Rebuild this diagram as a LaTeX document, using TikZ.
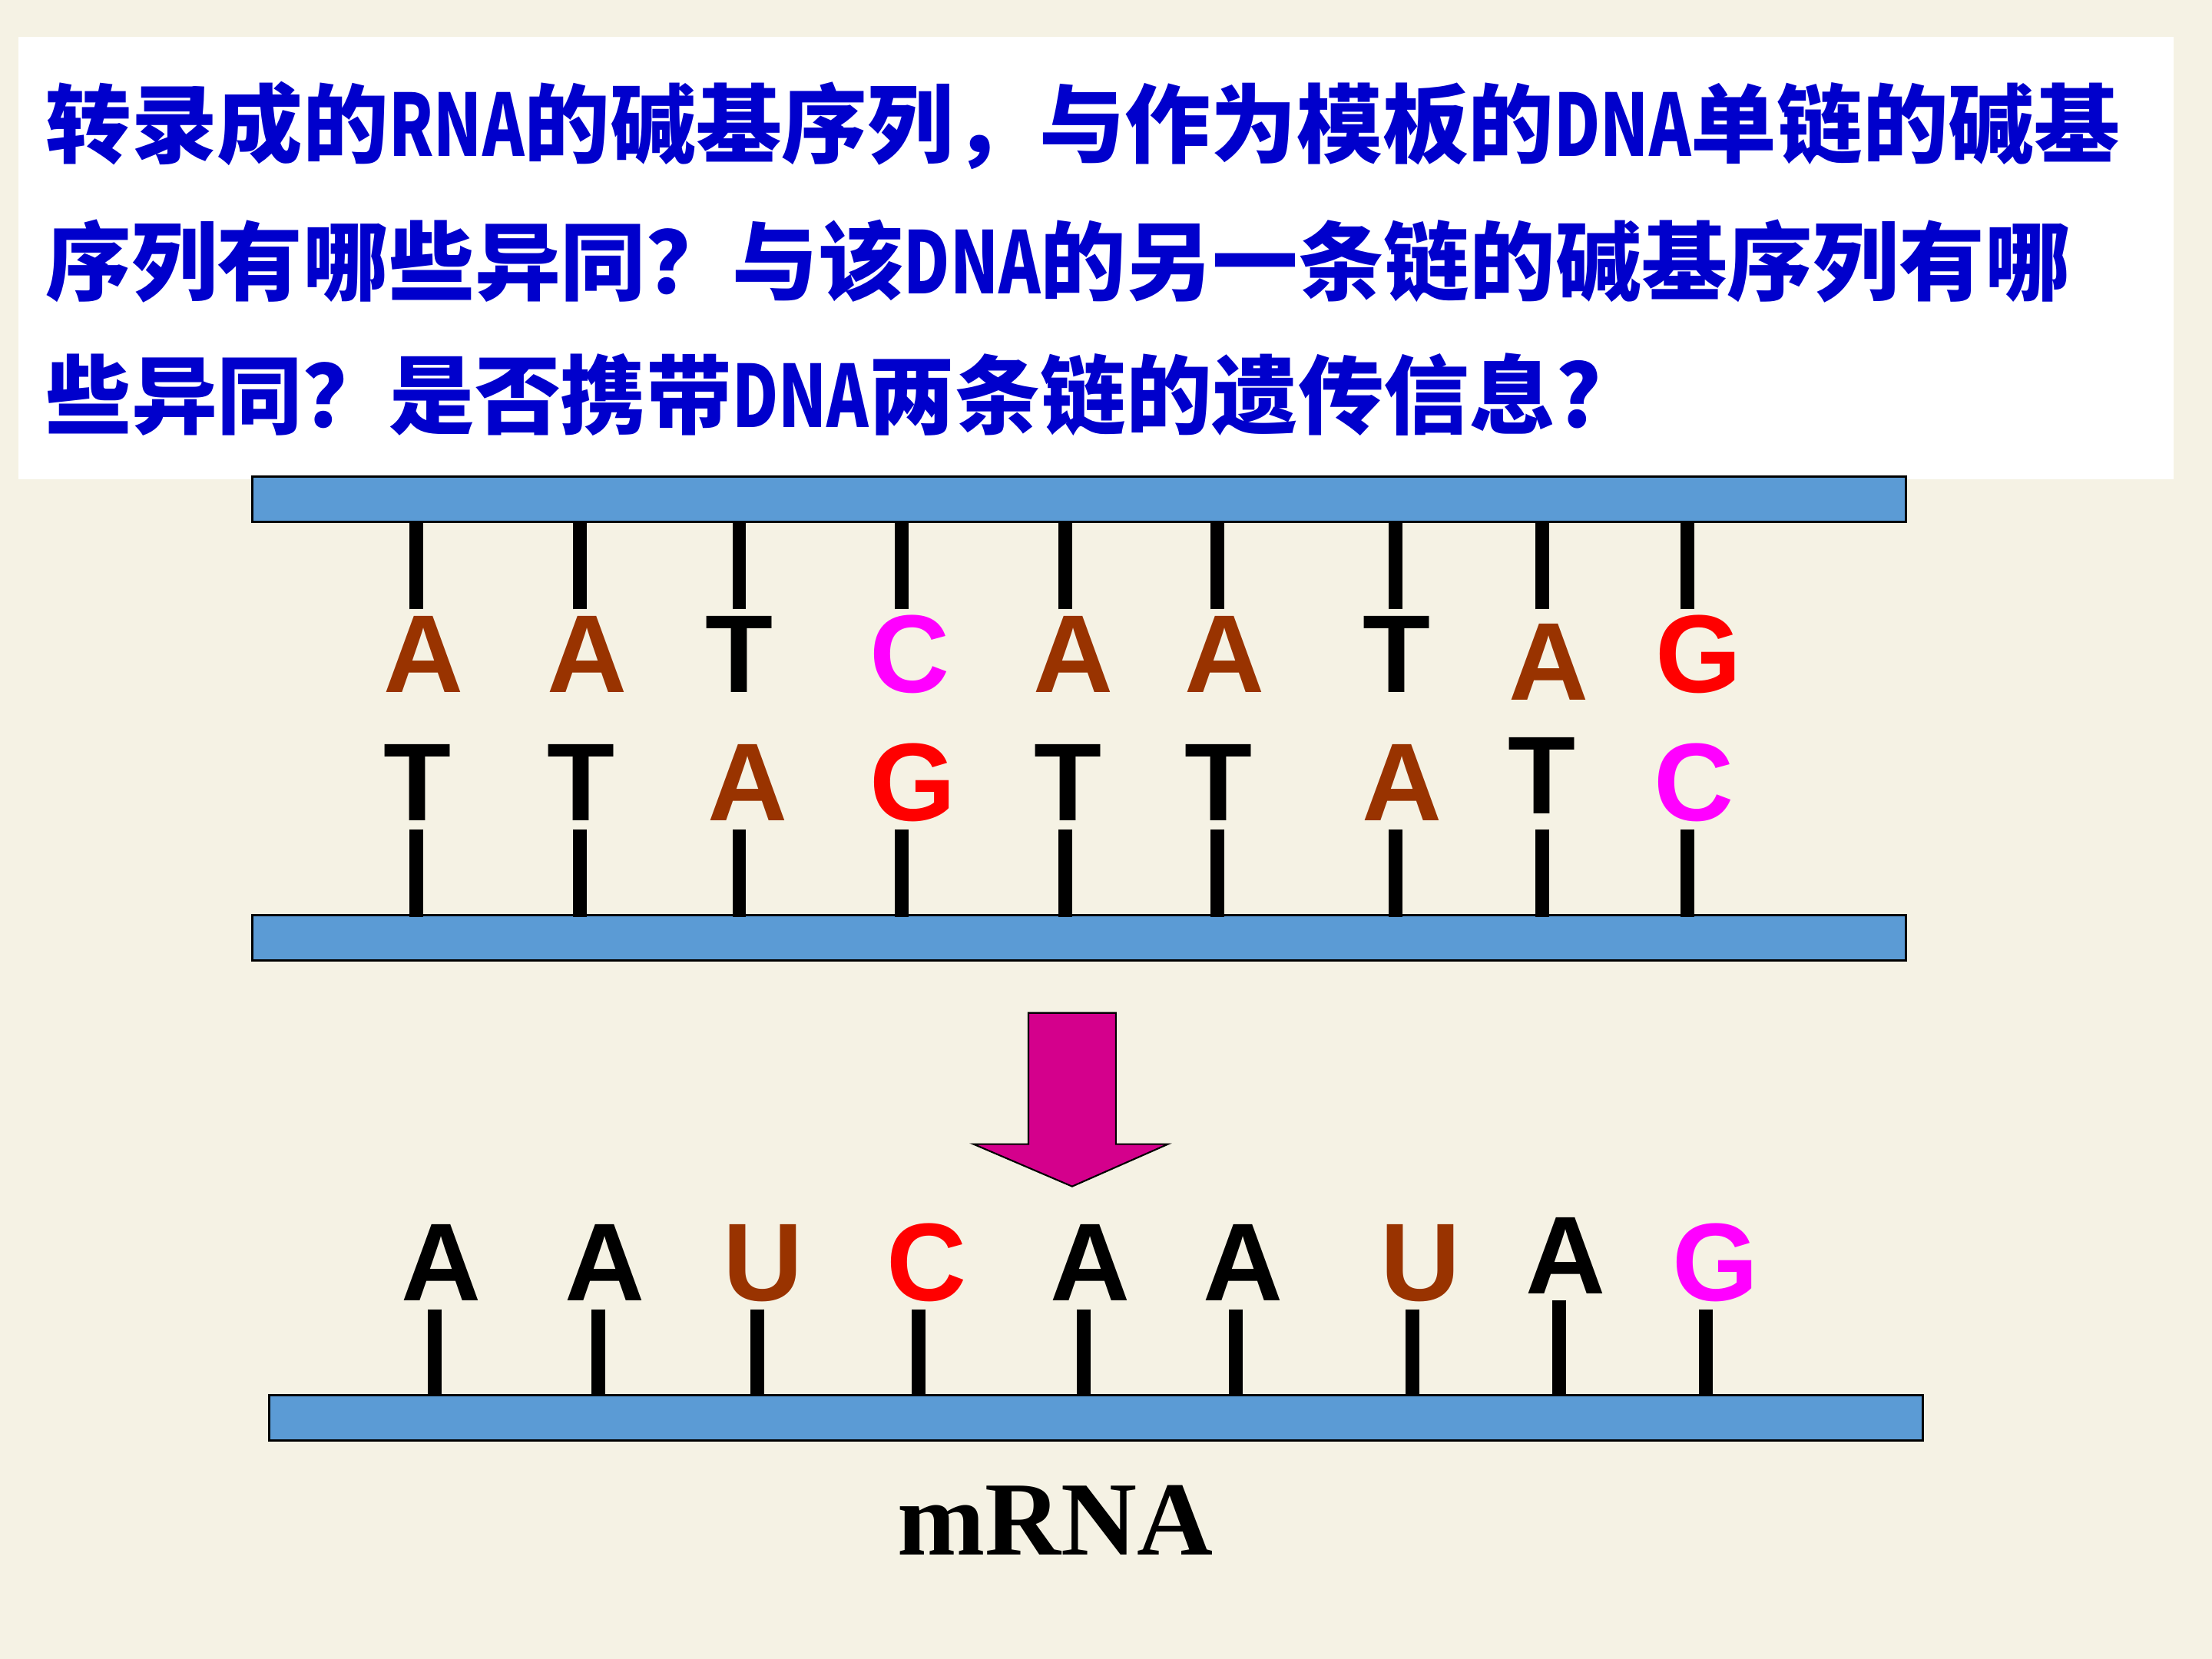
\documentclass[tikz,border=0pt]{standalone}
\usepackage{fontspec}
\setmainfont{Liberation Serif}
\newfontfamily\cjk{Noto Sans CJK SC}
\newfontfamily\basefont{Liberation Sans}
\usetikzlibrary{positioning}
\definecolor{paper}{RGB}{245,242,228}
\definecolor{strandblue}{RGB}{91,155,213}
\definecolor{qblue}{RGB}{0,0,204}
\definecolor{brownbase}{RGB}{153,51,0}
\definecolor{pinkbase}{RGB}{255,0,255}
\definecolor{redbase}{RGB}{255,0,0}
\definecolor{arrowpink}{RGB}{212,0,140}
\newcommand{\abbr}[1]{\scalebox{0.74}[1]{#1}}

\begin{document}
\begin{tikzpicture}[x=0.0183673cm, y=-0.0183673cm,
  strand/.style={draw=black, line width=0.85pt, fill=strandblue,
    minimum width=21.53cm, minimum height=0.59cm, inner sep=0pt},
  stick/.style={line width=5.1pt},
  base/.style={font=\basefont\bfseries\fontsize{41}{41}\selectfont,
    inner sep=0pt, anchor=base},
  question/.style={font=\cjk\bfseries\fontsize{31.8}{31.8}\selectfont,
    text=qblue, inner sep=0pt, anchor=base west}]
  \fill[paper] (0,0) rectangle (1568,1176);
  \useasboundingbox (0,0) rectangle (1568,1176);
  \fill[white] (13,26) rectangle (1541,340);

  \node[question] (q1) at (32,111) {转录成的\abbr{RNA}的碱基序列，与作为模板的\abbr{DNA}单链的碱基};
  \node[question] (q2) at (32,208) {序列有哪些异同？与该\abbr{DNA}的另一条链的碱基序列有哪};
  \node[question] (q3) at (32,303) {些异同？是否携带\abbr{DNA}两条链的遗传信息?};

  \node[strand] (top) at (765,354) {};
  \node[strand] (bottom) at (765,665) {};
  \node[strand] (mrna) at (777,1005) {};

  \foreach \x [count=\i] in {295,411,524,639,755,863,989,1093,1196} {
    \coordinate (u\i) at (\x,432);
    \draw[stick] (u\i) -- ([yshift=1pt]u\i |- top.south);
    \coordinate (d\i) at (\x,588);
    \draw[stick] (d\i) -- ([yshift=-1pt]d\i |- bottom.north);
  }
  \foreach \x/\y/\l/\c [count=\i] in {300/491/A/brownbase, 416/491/A/brownbase,
    524/491/T/black, 645/491/C/pinkbase, 761/491/A/brownbase, 868/491/A/brownbase,
    990/491/T/black, 1098/496/A/brownbase, 1204/491/G/redbase}
    \node[base, text=\c] (t\i) at (\x,\y) {\l};
  \foreach \x/\y/\l/\c [count=\i] in {296/582/T/black, 412/582/T/black,
    530/582/A/brownbase, 647/582/G/redbase, 757/582/T/black, 864/582/T/black,
    994/582/A/brownbase, 1093/577/T/black, 1201/582/C/pinkbase}
    \node[base, text=\c] (b\i) at (\x,\y) {\l};

  \draw[fill=arrowpink, line width=0.6pt] (729,718) -- (791,718) -- (791,811)
    -- (828,811) -- (760,841) -- (690,811) -- (729,811) -- cycle;

  \foreach \x/\y/\l/\c [count=\i] in {313/922/A/black, 429/922/A/black,
    541/922/U/brownbase, 657/922/C/redbase, 773/922/A/black, 881/922/A/black,
    1007/922/U/brownbase, 1110/917/A/black, 1216/922/G/pinkbase}
    \node[base, text=\c] (m\i) at (\x,\y) {\l};
  \foreach \x/\y [count=\i] in {308/928,424/928,537/928,651/928,768/928,
    876/928,1001/928,1105/922,1209/928} {
    \coordinate (r\i) at (\x,\y);
    \draw[stick] (r\i) -- ([yshift=-1pt]r\i |- mrna.north);
  }

  \node[font=\bfseries\fontsize{39}{39}\selectfont, inner sep=0pt, anchor=base]
    (label) at (748,1102) {mRNA};
\end{tikzpicture}
\end{document}
